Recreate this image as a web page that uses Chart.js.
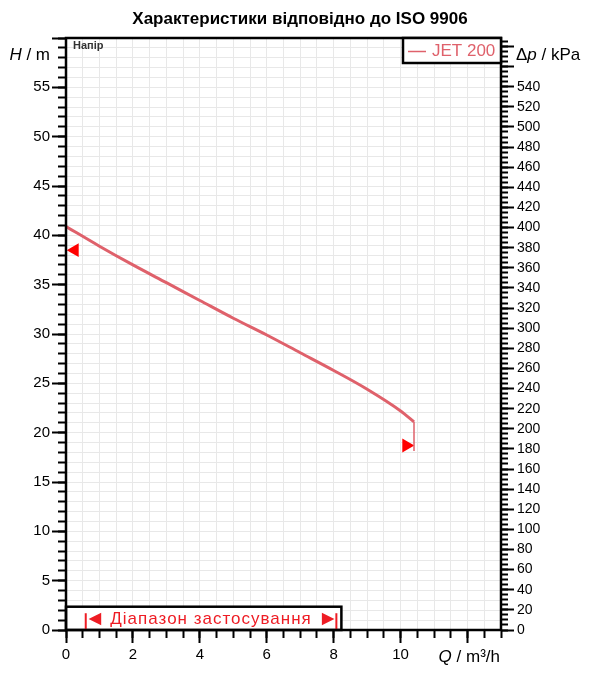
<!DOCTYPE html>
<html>
<head>
<meta charset="utf-8">
<title>JET 200</title>
<script src="https://cdn.jsdelivr.net/npm/chart.js@4/dist/chart.umd.min.js"></script>
<style>
  html, body { margin: 0; padding: 0; background: #fff; }
  #wrap { width: 600px; height: 683px; }
</style>
</head>
<body>
<div id="wrap"><canvas id="pumpChart"></canvas></div>
<script>
// pump curve (Q in m3/h, H in m)
const flow = [0, 1, 2, 3, 4, 5, 6, 7, 8, 9, 10, 10.4];
const head = [40.9, 38.9, 37.0, 35.2, 33.4, 31.6, 29.9, 28.1, 26.3, 24.4, 22.2, 21.1];
// drop line at the end of the curve
const endFlow = [10.4, 10.4];
const endHead = [21.1, 18.15];
// red tolerance markers
const markFlow = [0.26, 10.17];
const markHead = [38.5, 18.7];
const markTurn = [-90, 90];
// application range
const rangeFlow = [0.59, 8.08];
const rangeBoxFlow = 8.23;
const rangeBoxHead = 2.36;
const rangeText = 'Діапазон застосування';
// axes
const headMax = 60;
const flowMax = 13;
const kpaPerM = 9.80665;

const FONT = "'Liberation Sans', Arial, sans-serif";
const curveColor = '#df616b';
const rangeRed = '#ee1c24';

Chart.defaults.font.family = FONT;
Chart.defaults.color = '#000';

function drawParts(ctx, parts, x, y, align, size) {
	let total = 0;
	parts.forEach(p => {
		ctx.font = (p[1] ? 'italic ' : '') + size + 'px ' + FONT;
		total += ctx.measureText(p[0]).width;
	});
	let cx = align === 'right' ? x - total : x;
	ctx.textAlign = 'left';
	ctx.textBaseline = 'middle';
	parts.forEach(p => {
		ctx.font = (p[1] ? 'italic ' : '') + size + 'px ' + FONT;
		ctx.fillText(p[0], cx, y);
		cx += ctx.measureText(p[0]).width;
	});
}

const decorations = {
	id: 'decorations',
	beforeDatasetsDraw(chart) {
		const {ctx, scales: {x, y}} = chart;
		const x1 = x.getPixelForValue(0), x2 = x.getPixelForValue(rangeBoxFlow);
		const y1 = y.getPixelForValue(rangeBoxHead), y2 = y.getPixelForValue(0);
		ctx.save();
		ctx.fillStyle = '#fff';
		ctx.fillRect(x1, y1, x2 - x1, y2 - y1);
		ctx.lineWidth = 2.5;
		ctx.strokeStyle = '#000';
		ctx.strokeRect(x1, y1, x2 - x1, y2 - y1);

		// range label with arrows
		const mid = (x.getPixelForValue(rangeFlow[0]) + x.getPixelForValue(rangeFlow[1])) / 2;
		const ty = (y1 + y2) / 2 + 1;
		ctx.fillStyle = rangeRed;
		ctx.textBaseline = 'middle';
		ctx.font = '17px ' + FONT;
		ctx.letterSpacing = '1px';
		const w = ctx.measureText(rangeText).width;
		ctx.textAlign = 'left';
		ctx.fillText(rangeText, mid - w / 2, ty);
		ctx.letterSpacing = '0px';
		ctx.font = '21px ' + FONT;
		ctx.textAlign = 'right';
		ctx.fillText('◄', mid - w / 2 - 5, ty);
		ctx.textAlign = 'left';
		ctx.fillText('►', mid + w / 2 + 6, ty);
		ctx.restore();
	},
	afterDraw(chart) {
		const {ctx, chartArea: a} = chart;
		ctx.save();
		// frame
		ctx.lineWidth = 2.5;
		ctx.strokeStyle = '#000';
		ctx.strokeRect(a.left, a.top, a.right - a.left, a.bottom - a.top);

		// legend box, top right
		const ds = chart.data.datasets[0];
		const lx = a.right - 98, ly = a.top, lw = 98, lh = 25;
		ctx.fillStyle = '#fff';
		ctx.fillRect(lx, ly, lw, lh);
		ctx.strokeRect(lx, ly, lw, lh);
		ctx.strokeStyle = ds.borderColor;
		ctx.lineWidth = 1.5;
		ctx.beginPath();
		ctx.moveTo(lx + 5, ly + 13.5);
		ctx.lineTo(lx + 23, ly + 13.5);
		ctx.stroke();
		ctx.fillStyle = ds.borderColor;
		ctx.font = '17px ' + FONT;
		ctx.textAlign = 'left';
		ctx.textBaseline = 'middle';
		ctx.fillText(ds.label, lx + 29, ly + 13.5);

		// axis names
		ctx.fillStyle = '#000';
		drawParts(ctx, [['H', true], [' / m', false]], a.left - 16, a.top + 17, 'right', 17);
		drawParts(ctx, [['Δ', false], ['p', true], [' / kPa', false]], a.right + 15, a.top + 17, 'left', 17);
		drawParts(ctx, [['Q', true], [' / m³/h', false]], a.right - 1, a.bottom + 27, 'right', 17);

		ctx.fillStyle = '#333';
		ctx.font = 'bold 11px ' + FONT;
		ctx.textAlign = 'left';
		ctx.textBaseline = 'middle';
		ctx.fillText('Напір', a.left + 7, a.top + 8);
		ctx.restore();
	}
};

const ctx = document.getElementById('pumpChart').getContext('2d');

const pumpChart = new Chart(ctx, {
	type: 'line',
	data: {
		datasets: [
			{
				label: 'JET 200',
				data: flow.map((q, i) => ({x: q, y: head[i]})),
				borderColor: curveColor,
				borderWidth: 3,
				pointRadius: 0,
				cubicInterpolationMode: 'monotone',
				fill: false
			},
			{
				label: 'end',
				data: endFlow.map((q, i) => ({x: q, y: endHead[i]})),
				borderColor: curveColor,
				borderWidth: 1.5,
				pointRadius: 0,
				fill: false
			},
			{
				label: 'marks',
				data: markFlow.map((q, i) => ({x: q, y: markHead[i]})),
				showLine: false,
				pointStyle: 'triangle',
				pointRadius: 8,
				pointRotation: markTurn,
				pointBackgroundColor: '#ff0000',
				pointBorderWidth: 0,
				clip: false
			},
			...rangeFlow.map(q => ({
				label: 'range',
				data: [{x: q, y: 0.1}, {x: q, y: 1.7}],
				borderColor: rangeRed,
				borderWidth: 2,
				pointRadius: 0,
				fill: false
			}))
		]
	},
	options: {
		responsive: true,
		maintainAspectRatio: false,
		animation: false,
		layout: { padding: 0 },
		plugins: {
			legend: { display: false },
			tooltip: { enabled: false },
			title: {
				display: true,
				text: 'Характеристики відповідно до ISO 9906',
				color: '#000',
				font: { family: FONT, size: 17, weight: 'bold' },
				padding: { top: 9, bottom: 8.6 }
			}
		},
		scales: {
			x: {
				type: 'linear', position: 'bottom', weight: 1,
				min: 0, max: flowMax,
				ticks: {
					stepSize: 2, includeBounds: false, autoSkip: false, maxRotation: 0,
					padding: 3, font: { size: 15 },
					callback: v => v <= 10 ? v : ''
				},
				grid: { color: '#a8a8a8', lineWidth: 1, tickLength: 13, tickColor: '#000', tickWidth: 2 },
				border: { display: false, dash: [2, 2] },
				afterFit: s => { s.height = 53; }
			},
			xm: {
				type: 'linear', position: 'bottom', weight: 0,
				min: 0, max: flowMax,
				ticks: { stepSize: 0.5, display: false },
				grid: { color: '#e8e8e8', lineWidth: 1, tickLength: 8, tickColor: '#000', tickWidth: 2 },
				border: { display: false },
				afterFit: s => { s.height = 0; }
			},
			y: {
				type: 'linear', position: 'left', weight: 1,
				min: 0, max: headMax,
				ticks: {
					stepSize: 5, autoSkip: false, padding: 2, font: { size: 15 },
					callback: v => v <= 55 ? v : ''
				},
				grid: { color: '#a8a8a8', lineWidth: 1, tickLength: 14, tickColor: '#000', tickWidth: 2 },
				border: { display: false, dash: [2, 2] },
				afterFit: s => { s.width = 66; }
			},
			ym: {
				type: 'linear', position: 'left', weight: 0,
				min: 0, max: headMax,
				ticks: { stepSize: 1, display: false },
				grid: { color: '#e8e8e8', lineWidth: 1, tickLength: 8, tickColor: '#000', tickWidth: 2 },
				border: { display: false },
				afterFit: s => { s.width = 0; }
			},
			y2: {
				type: 'linear', position: 'right', weight: 1,
				min: 0, max: headMax * kpaPerM,
				ticks: {
					stepSize: 20, includeBounds: false, autoSkip: false, padding: 3, font: { size: 14 },
					callback: v => v <= 540 ? v : ''
				},
				grid: { drawOnChartArea: false, tickLength: 13, tickColor: '#000', tickWidth: 2 },
				border: { display: false },
				afterFit: s => { s.width = 99; }
			},
			y2m: {
				type: 'linear', position: 'right', weight: 0,
				min: 0, max: headMax * kpaPerM,
				ticks: { stepSize: 5, includeBounds: false, display: false },
				grid: { drawOnChartArea: false, tickLength: 7, tickColor: '#000', tickWidth: 2 },
				border: { display: false },
				afterFit: s => { s.width = 0; }
			}
		}
	},
	plugins: [decorations]
});
</script>
</body>
</html>
